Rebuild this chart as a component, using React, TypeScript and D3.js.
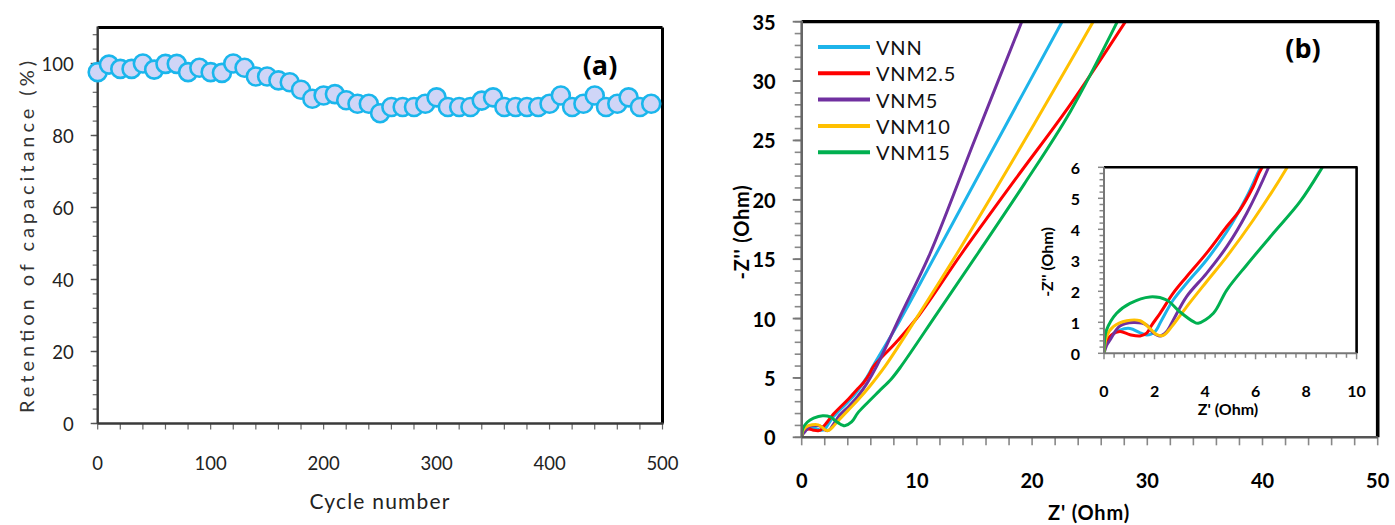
import React from "react";
import * as d3 from "d3";

// ---------- Panel (a) data ----------
const cycles = [0, 10, 20, 30, 40, 50, 60, 70, 80, 90, 100, 110, 120, 130, 140, 150, 160, 170, 180, 190, 200, 210, 220, 230, 240, 250, 260, 270, 280, 290, 300, 310, 320, 330, 340, 350, 360, 370, 380, 390, 400, 410, 420, 430, 440, 450, 460, 470, 480, 490];
const retention = [97.6, 99.7, 98.5, 98.5, 100, 98.3, 99.9, 99.9, 97.6, 98.8, 97.6, 97.4, 100, 98.8, 96.4, 96.4, 95.3, 94.8, 92.7, 90.2, 91.1, 91.5, 89.8, 88.8, 88.8, 86.2, 87.9, 87.9, 87.9, 88.8, 90.6, 87.9, 87.9, 87.9, 89.7, 90.6, 87.9, 87.9, 87.9, 87.9, 88.8, 91.1, 87.9, 88.8, 91.1, 87.9, 88.8, 90.6, 87.9, 88.8];
const aXTicks = [0, 100, 200, 300, 400, 500];
const aYTicks = [0, 20, 40, 60, 80, 100];

// ---------- Panel (b) data: [Z', -Z''] ----------
const VNN = [[0, 0], [0.05, 0.3], [0.24, 0.54], [0.63, 0.75], [1.03, 0.8], [1.43, 0.66], [1.69, 0.59], [2.02, 0.7], [2.28, 1.07], [2.74, 1.72], [3.27, 2.26], [4.06, 3.01], [4.86, 3.92], [5.65, 5.05], [6.18, 5.97], [8.5, 9.8], [11.7, 15.5], [17, 25], [22.6, 35]];
const VNM25 = [[0, 0], [0.1, 0.35], [0.3, 0.59], [0.63, 0.7], [1.03, 0.6], [1.43, 0.56], [1.69, 0.65], [1.89, 0.91], [2.22, 1.29], [2.74, 1.94], [3.27, 2.47], [4.06, 3.23], [4.86, 4.09], [5.38, 4.62], [5.91, 5.38], [6.24, 5.97], [8.2, 8.0], [10.2, 10.3], [13.9, 15.5], [18.6, 21.8], [23.3, 28], [28.1, 35]];
const VNM5 = [[0, 0], [0.1, 0.25], [0.24, 0.43], [0.63, 0.88], [1.16, 0.99], [1.69, 0.91], [1.95, 0.66], [2.22, 0.56], [2.48, 0.7], [2.74, 1.07], [3.27, 1.83], [4.06, 2.58], [4.86, 3.44], [5.65, 4.52], [6.5, 5.97], [8.6, 10.3], [11.15, 15.5], [15, 25], [19.1, 35]];
const VNM10 = [[0, 0], [0.03, 0.25], [0.1, 0.54], [0.37, 0.86], [0.9, 1.05], [1.43, 1.05], [1.82, 0.8], [2.09, 0.6], [2.35, 0.58], [2.68, 0.86], [3.27, 1.5], [4.06, 2.31], [4.86, 3.12], [5.91, 4.3], [7.23, 5.97], [10.2, 10.4], [13.5, 15.5], [18.5, 23.6], [23.3, 31.6], [25.3, 35]];
const VNM15 = [[0, 0], [0.02, 0.4], [0.1, 0.75], [0.5, 1.29], [1.03, 1.61], [1.82, 1.82], [2.48, 1.72], [3.0, 1.34], [3.54, 1.02], [3.73, 0.97], [4.33, 1.29], [4.86, 2.04], [5.65, 2.85], [6.7, 3.87], [7.76, 4.89], [8.62, 5.97], [11.8, 10.5], [15.3, 15.5], [19.3, 21.3], [23.3, 27.4], [27.4, 35]];
const seriesNames = ["VNN", "VNM2.5", "VNM5", "VNM10", "VNM15"];
const seriesData = [VNN, VNM25, VNM5, VNM10, VNM15];
const seriesColors = ["#1DB4EA", "#FF0000", "#7030A0", "#FFC000", "#00B050"];
const bXTicks = [0, 10, 20, 30, 40, 50];
const bYTicks = [0, 5, 10, 15, 20, 25, 30, 35];
const inXTicks = [0, 2, 4, 6, 8, 10];
const inYTicks = [0, 1, 2, 3, 4, 5, 6];

export default function App() {
  const xA = d3.scaleLinear().domain([0, 500]).range([97.7, 662.5]);
  const yA = d3.scaleLinear().domain([0, 110]).range([423.5, 27.5]);
  const xB = d3.scaleLinear().domain([0, 50]).range([801.7, 1377.7]);
  const yB = d3.scaleLinear().domain([0, 35]).range([437.3, 21.7]);
  const xI = d3.scaleLinear().domain([0, 10]).range([1104, 1356.6]);
  const yI = d3.scaleLinear().domain([0, 6]).range([353.3, 167.3]);

  const lineB = d3.line<number[]>().x((d) => xB(d[0])).y((d) => yB(d[1])).curve(d3.curveCatmullRom.alpha(0.5));
  const lineI = d3.line<number[]>().x((d) => xI(d[0])).y((d) => yI(d[1])).curve(d3.curveCatmullRom.alpha(0.5));

  const aYMinor = d3.range(0, 109, 4);
  const aXMinor = d3.range(0, 501, 20);
  const bYMinor = d3.range(0, 36, 1);
  const bXMinor = d3.range(0, 51, 2);
  const iYMinor = d3.range(0, 6.01, 0.2);
  const iXMinor = d3.range(0, 10.01, 0.4);

  const fontA = "Lato, 'Open Sans', sans-serif";
  const fontB = "Lato, 'Open Sans', sans-serif";

  return (
    <svg width={1395} height={525} style={{ position: "absolute", left: 0, top: 0, background: "#fff" }}>
      <defs>
        <clipPath id="clipB">
          <rect x={xB(0)} y={yB(35)} width={xB(50) - xB(0)} height={yB(0) - yB(35)} />
        </clipPath>
        <clipPath id="clipI">
          <rect x={xI(0)} y={yI(6)} width={xI(10) - xI(0)} height={yI(0) - yI(6)} />
        </clipPath>
      </defs>
      <rect x={0} y={0} width={1395} height={525} fill="#fff" />

      {/* ================= Panel (a) ================= */}
      <g>
        {aYMinor.map((v) => (
          <line key={"aym" + v} x1={xA(0) - 5} x2={xA(0)} y1={yA(v)} y2={yA(v)} stroke="#666" strokeWidth={1.2} />
        ))}
        {aYTicks.map((v) => (
          <line key={"ayM" + v} x1={xA(0) - 7} x2={xA(0)} y1={yA(v)} y2={yA(v)} stroke="#555" strokeWidth={1.4} />
        ))}
        {aXMinor.map((v) => (
          <line key={"axm" + v} x1={xA(v)} x2={xA(v)} y1={yA(0)} y2={yA(0) + 6} stroke="#666" strokeWidth={1.2} />
        ))}
        <line x1={xA(0)} x2={xA(500)} y1={yA(110)} y2={yA(110)} stroke="#000" strokeWidth={3} />
        <line x1={xA(500)} x2={xA(500)} y1={yA(110)} y2={yA(0)} stroke="#000" strokeWidth={3} />
        <line x1={xA(0)} x2={xA(0)} y1={yA(110) - 1} y2={yA(0)} stroke="#3a3a3a" strokeWidth={2.4} />
        <line x1={xA(0)} x2={xA(500) + 1} y1={yA(0)} y2={yA(0)} stroke="#3a3a3a" strokeWidth={2.4} />
        {aYTicks.map((v) => (
          <text key={"ayl" + v} x={xA(0) - 24} y={yA(v)} textAnchor="end" dominantBaseline="central" fontFamily={fontA} fontSize={18.5} fill="#222">{v}</text>
        ))}
        {aXTicks.map((v) => (
          <text key={"axl" + v} x={xA(v)} y={463} textAnchor="middle" dominantBaseline="central" fontFamily={fontA} fontSize={18.5} fill="#222">{v}</text>
        ))}
        <text transform="translate(26,237) rotate(-90)" textAnchor="middle" dominantBaseline="central" fontFamily={fontA} fontSize={20} fill="#333" textLength={352} lengthAdjust="spacing">Retention  of  capacitance  (%)</text>
        <text x={380} y={500} textAnchor="middle" dominantBaseline="central" fontFamily={fontA} fontSize={21} fill="#222" letterSpacing={1.2}>Cycle number</text>
        <text x={600} y={64} textAnchor="middle" dominantBaseline="central" fontFamily="'Open Sans', Lato, sans-serif" fontWeight="bold" fontSize={27} fill="#000">(a)</text>
        {cycles.map((c, i) => (
          <circle key={"pt" + c} cx={xA(c)} cy={yA(retention[i])} r={9} fill="#CFD5F7" stroke="#1AB6EC" strokeWidth={2.6} />
        ))}
      </g>

      {/* ================= Panel (b) ================= */}
      <g>
        {bYMinor.map((v) => (
          <line key={"bym" + v} x1={xB(0) - 7} x2={xB(0)} y1={yB(v)} y2={yB(v)} stroke="#888" strokeWidth={1.6} />
        ))}
        {bYTicks.map((v) => (
          <line key={"byM" + v} x1={xB(0) - 9} x2={xB(0)} y1={yB(v)} y2={yB(v)} stroke="#777" strokeWidth={1.8} />
        ))}
        {bXMinor.map((v) => (
          <line key={"bxm" + v} x1={xB(v)} x2={xB(v)} y1={yB(0)} y2={yB(0) + 8} stroke="#888" strokeWidth={1.6} />
        ))}
        <g clipPath="url(#clipB)">
          {seriesData.map((s, i) => (
            <path key={"bl" + i} d={lineB(s as number[][]) || ""} fill="none" stroke={seriesColors[i]} strokeWidth={3} strokeLinejoin="round" />
          ))}
        </g>
        <line x1={xB(0)} x2={xB(50) + 1.5} y1={yB(35)} y2={yB(35)} stroke="#000" strokeWidth={3.2} />
        <line x1={xB(50)} x2={xB(50)} y1={yB(35)} y2={yB(0)} stroke="#000" strokeWidth={3.6} />
        <line x1={xB(0)} x2={xB(0)} y1={yB(35) - 1} y2={yB(0)} stroke="#666" strokeWidth={2.6} />
        <line x1={xB(0)} x2={xB(50)} y1={yB(0)} y2={yB(0)} stroke="#555" strokeWidth={2.4} />
        {bYTicks.map((v) => (
          <text key={"byl" + v} x={xB(0) - 26} y={yB(v)} textAnchor="end" dominantBaseline="central" fontFamily={fontB} fontWeight="bold" fontSize={20} fill="#000">{v}</text>
        ))}
        {bXTicks.map((v) => (
          <text key={"bxl" + v} x={xB(v)} y={480} textAnchor="middle" dominantBaseline="central" fontFamily={fontB} fontWeight="bold" fontSize={20} fill="#000">{v}</text>
        ))}
        <text transform="translate(741,232) rotate(-90)" textAnchor="middle" dominantBaseline="central" fontFamily={fontB} fontWeight="bold" fontSize={20} fill="#000" letterSpacing={0.8}>-Z'' (Ohm)</text>
        <text x={1089} y={512} textAnchor="middle" dominantBaseline="central" fontFamily={fontB} fontWeight="bold" fontSize={20} fill="#000" letterSpacing={0.8}>Z' (Ohm)</text>
        <text x={1303} y={47} textAnchor="middle" dominantBaseline="central" fontFamily="'Open Sans', Lato, sans-serif" fontWeight="bold" fontSize={27} fill="#000">(b)</text>

        {seriesNames.map((n, i) => {
          const ly = 47 + i * 26.3;
          return (
            <g key={"lg" + n}>
              <line x1={818} x2={870} y1={ly} y2={ly} stroke={seriesColors[i]} strokeWidth={4} />
              <text x={876} y={ly} dominantBaseline="central" fontFamily={fontB} fontSize={20} fill="#111" letterSpacing={0.8}>{n}</text>
            </g>
          );
        })}

        {/* ============ Inset ============ */}
        <rect x={xI(0)} y={yI(6)} width={xI(10) - xI(0)} height={yI(0) - yI(6)} fill="#fff" />
        {iYMinor.map((v, k) => (
          <line key={"iym" + k} x1={xI(0) - (k % 5 === 0 ? 6 : 4.5)} x2={xI(0)} y1={yI(v)} y2={yI(v)} stroke="#888" strokeWidth={1.5} />
        ))}
        {iXMinor.map((v, k) => (
          <line key={"ixm" + k} x1={xI(v)} x2={xI(v)} y1={yI(0)} y2={yI(0) + (k % 5 === 0 ? 6 : 4.5)} stroke="#888" strokeWidth={1.5} />
        ))}
        <g clipPath="url(#clipI)">
          {seriesData.map((s, i) => (
            <path key={"il" + i} d={lineI(s as number[][]) || ""} fill="none" stroke={seriesColors[i]} strokeWidth={3} strokeLinejoin="round" />
          ))}
        </g>
        <line x1={xI(0)} x2={xI(10) + 1} y1={yI(6)} y2={yI(6)} stroke="#000" strokeWidth={2.6} />
        <line x1={xI(10)} x2={xI(10)} y1={yI(6)} y2={yI(0)} stroke="#000" strokeWidth={2.6} />
        <line x1={xI(0)} x2={xI(0)} y1={yI(6)} y2={yI(0)} stroke="#777" strokeWidth={2} />
        <line x1={xI(0)} x2={xI(10)} y1={yI(0)} y2={yI(0)} stroke="#777" strokeWidth={2} />
        {inYTicks.map((v) => (
          <text key={"iyl" + v} x={xI(0) - 24} y={yI(v)} textAnchor="end" dominantBaseline="central" fontFamily={fontB} fontWeight="bold" fontSize={16} fill="#000">{v}</text>
        ))}
        {inXTicks.map((v) => (
          <text key={"ixl" + v} x={xI(v)} y={390} textAnchor="middle" dominantBaseline="central" fontFamily={fontB} fontWeight="bold" fontSize={16} fill="#000">{v}</text>
        ))}
        <text transform="translate(1046,262) rotate(-90)" textAnchor="middle" dominantBaseline="central" fontFamily={fontB} fontWeight="bold" fontSize={16} fill="#000">-Z'' (Ohm)</text>
        <text x={1228} y={408} textAnchor="middle" dominantBaseline="central" fontFamily={fontB} fontWeight="bold" fontSize={16} fill="#000">Z' (Ohm)</text>
      </g>
    </svg>
  );
}
